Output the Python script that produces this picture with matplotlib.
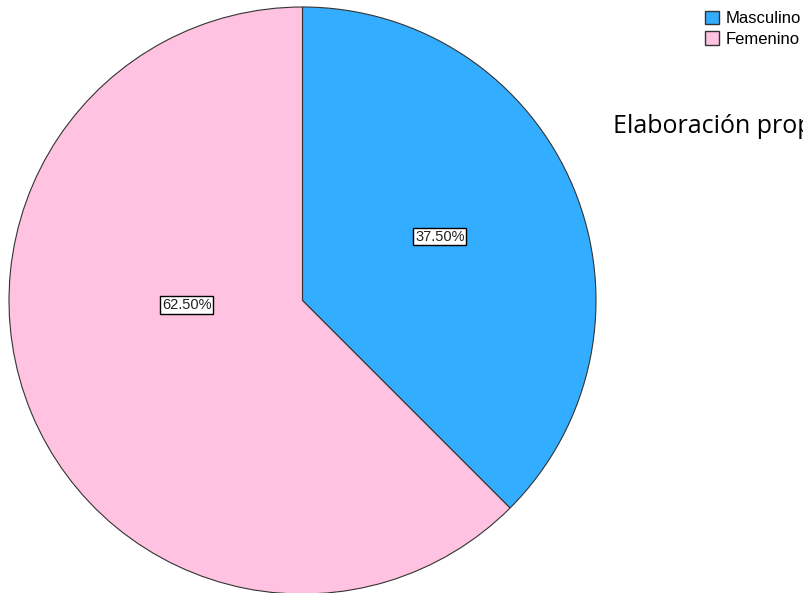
import matplotlib
matplotlib.use("Agg")
import matplotlib.pyplot as plt
from matplotlib.patches import Patch

labels = ["Masculino", "Femenino"]
values = [37.5, 62.5]
colors = ["#33adff", "#ffc2e0"]
# label positions (fraction of radius) as placed in the original
label_pos = [(0.468, 0.218), (-0.395, -0.015)]

fig = plt.figure(figsize=(8.04, 5.93), dpi=100)
ax = fig.add_axes([9 / 804, -1 / 593, 587 / 804, 587 / 593])

wedges, texts, autotexts = ax.pie(
    values, colors=colors, startangle=90, counterclock=False,
    autopct="%.2f%%", wedgeprops=dict(edgecolor="#333333", linewidth=0.8),
    textprops=dict(fontsize=10.5, family="Liberation Sans", color="#222222"),
)
for t, (x, y) in zip(autotexts, label_pos):
    t.set_position((x, y))
    t.set_bbox(dict(facecolor="white", edgecolor="black", boxstyle="square,pad=0.12", linewidth=1.0))
ax.set_xlim(-1, 1)
ax.set_ylim(-1, 1)
ax.set_aspect("equal")

handles = [Patch(facecolor=c, edgecolor="#333333", linewidth=1.0, label=l) for c, l in zip(colors, labels)]
fig.legend(handles=handles, loc="upper left", bbox_to_anchor=(705 / 804, 1 - 11 / 593),
           frameon=False, prop=dict(family="Liberation Sans", size=12),
           handlelength=0.85, handleheight=0.85, handletextpad=0.4, labelspacing=0.3,
           borderpad=0, borderaxespad=0)

# text is cut at the right edge in the original too
fig.text(613 / 804, 1 - 133 / 593, "Elaboración propia", fontsize=18,
         family="Open Sans", color="black", va="baseline")

fig.savefig("out.png", dpi=100)
